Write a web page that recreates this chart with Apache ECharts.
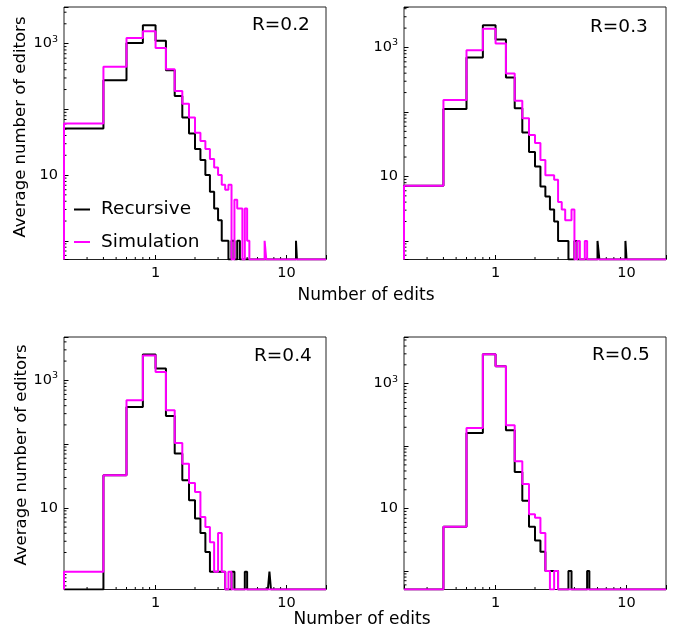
<!DOCTYPE html>
<html>
<head>
<meta charset="utf-8">
<script src="https://cdn.jsdelivr.net/npm/echarts@6/dist/echarts.min.js"></script>
<style>
html,body{margin:0;padding:0;background:#fff;}
#chart{width:677px;height:630px;}
</style>
</head>
<body>
<div id="chart"></div>
<script>
// ---- bins: linear width on a log axis ----
const binStart = 0.2;
const binWidth = 0.2;
const binCount = 99;          // 0.2 ... 20.0

// ---- average number of editors per bin (index 0 = bin 0.2-0.4) ----
const recursiveR02 = [51,277,1024,1900,1100,393,160,75,43,25,17,10,5.6,3.1,2.06,1,1,0,1,0,1,
  0,0,0,0,0,0,0,0,0,0,0,0,0,0,0,0,0,0,0,0,0,0,0,0,0,0,0,0,0,0,0,0,0,0,0,0,0,1];
const simulationR02 = [61,443,1219,1540,859,408,190,122,75,44,33,25,17.5,13,10,7.1,6.0,7.1,0,4.2,3.1,3.1,0,3.1,1,
  0,0,0,0,0,0,0,0,1];

const recursiveR03 = [7.2,111,700,2210,1330,343,114,48,24,14.3,7.0,4.9,3.06,2.0,1,1,1,0,0,1,
  0,0,0,0,0,0,0,0,0,1,0,0,0,0,0,0,0,0,0,0,0,0,0,0,0,0,0,0,1];
const simulationR03 = [7.2,153,908,1963,1153,396,150,80,44,33,18,10.4,10.4,8.9,4.0,3.06,2.09,2.09,3.06,0,1,0,0,1];

const recursiveR04 = [0,32.4,382,2530,1525,275,71,27,13.2,6.8,4.05,2.04,1,1,1,1,0,0,1,
  0,0,0,0,1,0,0,0,0,0,0,0,0,0,0,0,0,1];
const simulationR04 = [1,32.4,486,2450,1349,339,104,49.4,24.6,17.8,7.2,5.0,2.9,1,4.05,1,0,1];

const recursiveR05 = [0,5.1,162,2943,1892,179,38.6,13.3,5.1,3.07,2.03,1,1,1,0,0,0,1,0,0,0,0,0,0,1];
const simulationR05 = [0,5.1,195,2943,1892,215,57,24.8,8.1,7.1,4.05,1,0,1];

// ---- axis ticks ----
const xLabelTicks = [1, 10];
const xMinorTicks = [0.3,0.4,0.5,0.6,0.7,0.8,0.9,2,3,4,5,6,7,8,9];
const yLabelTicks = [10, 1000];
const yMinorTicks = [0.6,0.7,0.8,0.9,2,3,4,5,6,7,8,9,20,30,40,50,60,70,80,90,
  200,300,400,500,600,700,800,900,2000,3000,4000,5000];
const panelTitles = ['R=0.2','R=0.3','R=0.4','R=0.5'];
const seriesNames = ['Recursive','Simulation'];
const xTitle = 'Number of edits';
const yTitle = 'Average number of editors';

// ---- layout ----
const panels = [
  {rec: recursiveR02, sim: simulationR02, yMin: 0.52,  yMax: 3600, left: 64,  top: 7,   tx: 252, ty: 27},
  {rec: recursiveR03, sim: simulationR03, yMin: 0.515, yMax: 4250, left: 404, top: 7,   tx: 590, ty: 29},
  {rec: recursiveR04, sim: simulationR04, yMin: 0.526, yMax: 4770, left: 64,  top: 337, tx: 254, ty: 358},
  {rec: recursiveR05, sim: simulationR05, yMin: 0.506, yMax: 5580, left: 404, top: 337, tx: 592, ty: 357}
];
const gridW = 262, gridH = 252.5;
const FONT = 'DejaVu Sans';
const MINOR_LEN = 2.5;

function edge(k) { return Math.round((binStart + k * binWidth) * 1e6) / 1e6; }
function stepPoints(vals, floor) {
  const pts = [[edge(0), floor]];
  for (let k = 0; k < binCount; k++) {
    let v = k < vals.length ? vals[k] : 0;
    if (!(v > 0)) v = floor;
    pts.push([edge(k), v], [edge(k + 1), v]);
  }
  pts.push([edge(binCount), floor]);
  return pts;
}
function near(a, b) { return Math.abs(a - b) < 1e-6 * Math.max(1, Math.abs(b)); }

const grid = [], xAxis = [], yAxis = [], series = [], graphic = [];
panels.forEach((p, i) => {
  grid.push({left: p.left, top: p.top, width: gridW, height: gridH, containLabel: false,
    show: true, borderColor: '#222', borderWidth: 1, backgroundColor: 'transparent'});
  const xmin = edge(0), xmax = edge(binCount);
  xAxis.push({type: 'log', logBase: 10, gridIndex: i, min: xmin, max: xmax, position: 'bottom',
    axisLine: {show: false}, splitLine: {show: false},
    axisTick: {show: true, inside: true, length: 4.5, lineStyle: {color: '#000', width: 1}},
    axisLabel: {show: true, margin: 6, color: '#000', fontFamily: FONT, fontSize: 14.5,
      showMinLabel: true, showMaxLabel: true,
      formatter: v => { for (const t of xLabelTicks) if (near(v, t)) return String(t); return ''; }}
  });
  yAxis.push({type: 'log', logBase: 10, gridIndex: i, min: p.yMin, max: p.yMax, position: 'left',
    axisLine: {show: false}, splitLine: {show: false},
    axisTick: {show: true, inside: true, length: 4.5, lineStyle: {color: '#000', width: 1}},
    axisLabel: {show: true, margin: 6, color: '#000', fontFamily: FONT, fontSize: 14.5,
      formatter: v => near(v, yLabelTicks[1]) ? '{b|10}{s|3}' : (near(v, yLabelTicks[0]) ? '{b|10}' : ''),
      rich: {b: {fontFamily: FONT, fontSize: 14.5, color: '#000'},
             s: {fontFamily: FONT, fontSize: 9.5, color: '#000', verticalAlign: 'top', padding: [0, 0, 9, 0]}}
    }
  });
  // step histograms
  series.push({name: seriesNames[0], type: 'line', xAxisIndex: i, yAxisIndex: i, data: stepPoints(p.rec, p.yMin),
    symbol: 'none', showSymbol: false, clip: true, lineStyle: {color: '#000000', width: 2}, itemStyle: {color: '#000000'},
    animation: false, z: 3});
  series.push({name: seriesNames[1], type: 'line', xAxisIndex: i, yAxisIndex: i, data: stepPoints(p.sim, p.yMin),
    symbol: 'none', showSymbol: false, clip: true, lineStyle: {color: '#ff00ff', width: 2}, itemStyle: {color: '#ff00ff'},
    animation: false, z: 4});
  // minor ticks (log axes), placed through the axes' own scales
  series.push({type: 'custom', xAxisIndex: i, yAxisIndex: i, silent: true, z: 2, animation: false, clip: false,
    data: xMinorTicks.map(v => [v, p.yMin]),
    renderItem: (params, api) => {
      const c = api.coord([api.value(0), api.value(1)]);
      return {type: 'line', shape: {x1: c[0], y1: c[1], x2: c[0], y2: c[1] - MINOR_LEN},
        style: {stroke: '#000', lineWidth: 1}};
    }
  });
  series.push({type: 'custom', xAxisIndex: i, yAxisIndex: i, silent: true, z: 2, animation: false, clip: false,
    data: yMinorTicks.filter(v => v > p.yMin && v < p.yMax).map(v => [xmin, v]),
    renderItem: (params, api) => {
      const c = api.coord([api.value(0), api.value(1)]);
      return {type: 'line', shape: {x1: c[0], y1: c[1], x2: c[0] + MINOR_LEN, y2: c[1]},
        style: {stroke: '#000', lineWidth: 1}};
    }
  });
  graphic.push({type: 'text', left: p.tx, top: p.ty - 11, style: {text: panelTitles[i], fontFamily: FONT, fontSize: 18.5, fill: '#000'}});
});

// axis titles
[[366, 296], [362, 620]].forEach(([x, y]) => {
  graphic.push({type: 'text', x: x, y: y, style: {text: xTitle, fontFamily: FONT, fontSize: 17, fill: '#000',
    align: 'center', verticalAlign: 'middle'}});
});
[[21, 127], [22, 455]].forEach(([x, y]) => {
  graphic.push({type: 'text', x: x, y: y, rotation: Math.PI / 2, style: {text: yTitle, fontFamily: FONT, fontSize: 16.5, fill: '#000',
    align: 'center', verticalAlign: 'middle'}});
});

const chart = echarts.init(document.getElementById('chart'), null, {renderer: 'canvas', width: 677, height: 630});
chart.setOption({
  animation: false,
  backgroundColor: '#ffffff',
  grid: grid,
  xAxis: xAxis,
  yAxis: yAxis,
  series: series,
  graphic: graphic,
  legend: {
    data: seriesNames.map(n => ({name: n, icon: 'rect'})), orient: 'vertical', left: 74, top: 200, padding: 0,
    itemWidth: 16, itemHeight: 2, itemGap: 13.5, selectedMode: false,
    textStyle: {fontFamily: FONT, fontSize: 18.5, color: '#000', padding: [0, 0, 0, 6]}
  }
});
</script>
</body>
</html>
